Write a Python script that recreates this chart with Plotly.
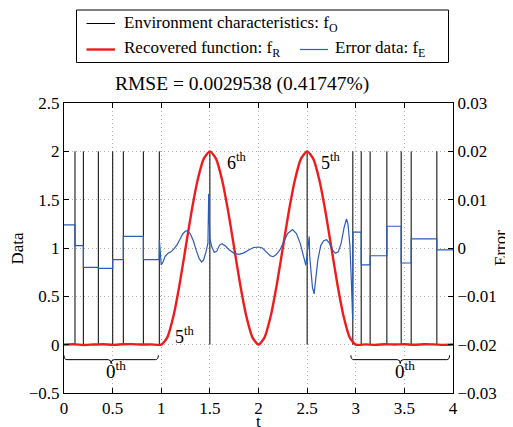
import plotly.graph_objects as go

# ---------------- data ----------------
# environment characteristics (impulses): positions and heights
impulse_t = [0.113, 0.199, 0.353, 0.501, 0.610, 0.816, 0.980, 1.5, 2.5,
             2.970, 3.056, 3.148, 3.320, 3.467, 3.570, 3.834]
impulse_h = [2.0, 2.0, 2.0, 2.0, 2.0, 2.0, 2.0, 2.0, 2.0,
             2.0, 2.0, 2.0, 2.0, 2.0, 2.0, 2.0]

# recovered function
red_t = [0.0, 0.1, 0.2, 0.3, 0.4, 0.5, 0.6, 0.7, 0.8, 0.9, 1.0,
         1.0625, 1.125, 1.1875, 1.25, 1.3125, 1.375, 1.4375, 1.5,
         1.5625, 1.625, 1.6875, 1.75, 1.8125, 1.875, 1.9375, 2.0,
         2.0625, 2.125, 2.1875, 2.25, 2.3125, 2.375, 2.4375, 2.5,
         2.5625, 2.625, 2.6875, 2.75, 2.8125, 2.875, 2.9375, 3.0,
         3.1, 3.2, 3.3, 3.4, 3.5, 3.6, 3.7, 3.8, 3.9, 4.0]
red_v = [0.0, 0.004, -0.003, 0.002, 0.005, -0.002, 0.004, 0.006, 0.001, 0.003, 0.0,
         0.076, 0.293, 0.617, 1.0, 1.383, 1.707, 1.924, 2.0,
         1.924, 1.707, 1.383, 1.0, 0.617, 0.293, 0.076, 0.0,
         0.076, 0.293, 0.617, 1.0, 1.383, 1.707, 1.924, 2.0,
         1.924, 1.707, 1.383, 1.0, 0.617, 0.293, 0.076, 0.0,
         0.003, -0.002, 0.004, 0.002, 0.005, -0.001, 0.004, 0.003, -0.002, 0.002]

# error data
err_t = [0.0, 0.113, 0.113, 0.199, 0.199, 0.353, 0.353, 0.501, 0.501, 0.610,
         0.610, 0.816, 0.816, 0.978, 0.981, 0.988, 1.0, 1.02, 1.04, 1.07,
         1.10, 1.13, 1.16, 1.19, 1.22, 1.25, 1.27, 1.30, 1.33, 1.36,
         1.39, 1.415, 1.435, 1.46, 1.48, 1.488, 1.494, 1.50, 1.52, 1.545,
         1.57, 1.60, 1.625, 1.66, 1.70, 1.75, 1.80, 1.85, 1.90, 1.95,
         2.00, 2.04, 2.08, 2.12, 2.15, 2.18, 2.22, 2.26, 2.30, 2.35,
         2.39, 2.43, 2.46, 2.487, 2.50, 2.515, 2.522, 2.526, 2.54, 2.555,
         2.572, 2.59, 2.61, 2.64, 2.67, 2.70, 2.73, 2.76, 2.79, 2.82,
         2.85, 2.88, 2.905, 2.92, 2.94, 2.955, 2.968, 2.972, 3.056, 3.056,
         3.148, 3.148, 3.320, 3.320, 3.467, 3.467, 3.570, 3.570, 3.834, 3.834,
         4.0]
err_v = [0.0048, 0.0048, 0.0005, 0.0005, -0.0040, -0.0040, -0.0042, -0.0042, -0.0024, -0.0024,
         0.0024, 0.0024, -0.0024, -0.0024, 0.0016, -0.0010, -0.0035, -0.0028, -0.0017, -0.0011,
         -0.0008, -0.0002, 0.0006, 0.0017, 0.0029, 0.0035, 0.0036, 0.0029, 0.0015, -0.0005,
         -0.0022, -0.0029, -0.0025, -0.0008, 0.0010, 0.0112, 0.0040, 0.0020, 0.0002, -0.0009,
         -0.0007, 0.0006, 0.0009, 0.0004, -0.0004, -0.0011, -0.0013, -0.0010, -0.0004, 0.0001,
         0.0002, 0.0000, -0.0008, -0.0016, -0.0018, -0.0014, -0.0004, 0.0013, 0.0030, 0.0038,
         0.0030, 0.0009, -0.0015, -0.0036, -0.0012, 0.0015, 0.0024, -0.0016, -0.0050, -0.0082,
         -0.0095, -0.0065, -0.0025, 0.0005, 0.0015, 0.0017, 0.0010, -0.0004, -0.0011, -0.0008,
         0.0010, 0.0042, 0.0060, 0.0050, 0.0005, -0.0070, -0.0147, 0.0033, 0.0033, -0.0035,
         -0.0035, -0.0016, -0.0016, 0.0045, 0.0045, -0.0031, -0.0031, 0.0019, 0.0019, -0.0004,
         -0.0004]

x_ticks = [0, 0.5, 1, 1.5, 2, 2.5, 3, 3.5, 4]
y_ticks = [-0.5, 0, 0.5, 1, 1.5, 2, 2.5]
y2_ticks = [-0.03, -0.02, -0.01, 0, 0.01, 0.02, 0.03]

# annotations: (text, t, value)
order_labels = [("6<sup>th</sup>", 1.77, 1.90), ("5<sup>th</sup>", 2.74, 1.90),
                ("5<sup>th</sup>", 1.235, 0.10)]
brace_spans = [(0.0, 0.97), (2.95, 3.965)]
brace_label = "0<sup>th</sup>"

title_text = "RMSE = 0.0029538 (0.41747%)"

# ---------------- layout geometry ----------------
# The page body has an 8px margin, so the figure is made 8px smaller and
# all screen positions below are given in window pixels.
OFF = 8
SW, SH = 513, 427                 # window size
PL, PR, PT, PB = 64, 453, 103, 393  # plot area in window pixels
W, H = SW - OFF, SH - OFF
ML, MT = PL - OFF, PT - OFF
MR, MB = SW - PR, SH - PB
PW = PR - PL
PH = PB - PT
FONT = "Liberation Serif"
RED = "#ee1c1c"
BLUE = "#2c5cb8"


def px(x):
    return (x - PL) / PW


def py(y):
    return (PB - y) / PH


imp_x, imp_y = [], []
for t, h in zip(impulse_t, impulse_h):
    imp_x += [t, t, None]
    imp_y += [0, h, None]

fig = go.Figure()
fig.add_trace(go.Scatter(x=imp_x, y=imp_y, mode="lines",
                         line=dict(color="black", width=1),
                         name="Environment characteristics: f<sub>O</sub>",
                         showlegend=False, hoverinfo="skip"))
fig.add_trace(go.Scatter(x=red_t, y=red_v, mode="lines",
                         line=dict(color=RED, width=2.4, shape="spline", smoothing=0.6),
                         name="Recovered function: f<sub>R</sub>", showlegend=False))
fig.add_trace(go.Scatter(x=err_t, y=err_v, mode="lines", yaxis="y2",
                         line=dict(color=BLUE, width=1.2),
                         name="Error data: f<sub>E</sub>", showlegend=False))

axis_common = dict(showline=True, linecolor="black", linewidth=1, ticks="inside",
                   ticklen=5, tickcolor="black", zeroline=False, automargin=False,
                   tickfont=dict(family=FONT, size=17, color="black"))
grid_common = dict(showgrid=True, gridcolor="#b0b0b0", griddash="1px,3px", gridwidth=1)

fig.update_layout(
    width=W, height=H,
    margin=dict(l=ML, r=MR, t=MT, b=MB, autoexpand=False),
    paper_bgcolor="white", plot_bgcolor="white",
    font=dict(family=FONT, size=17, color="black"),
    showlegend=False,
    xaxis=dict(range=[0, 4], tickvals=x_ticks, mirror="ticks", **grid_common, **axis_common),
    yaxis=dict(range=[-0.5, 2.5], tickvals=y_ticks, mirror=True, **grid_common, **axis_common),
    yaxis2=dict(range=[-0.03, 0.03], tickvals=y2_ticks, overlaying="y", side="right",
                anchor="x", showgrid=False, **axis_common),
)

shapes = []
# braces
ytop, ymid, ytip, w = -0.11, -0.155, -0.196, 0.03
for a, b in brace_spans:
    m = (a + b) / 2
    path = (f"M {a},{ytop} Q {a},{ymid} {a + w},{ymid} L {m - w},{ymid} "
            f"Q {m},{ymid} {m},{ytip} Q {m},{ymid} {m + w},{ymid} "
            f"L {b - w},{ymid} Q {b},{ymid} {b},{ytop}")
    shapes.append(dict(type="path", xref="x", yref="y", path=path,
                       line=dict(color="black", width=1)))

# legend box
shapes.append(dict(type="rect", xref="paper", yref="paper",
                   x0=px(76.5), x1=px(448.5), y0=py(62.5), y1=py(10),
                   line=dict(color="black", width=1), fillcolor="white"))
leg_lines = [(86.5, 115, 23.5, "black", 1), (86.5, 115, 49.5, RED, 2.4),
             (300, 328, 49.5, BLUE, 1.2)]
for x0, x1, yy, c, lw in leg_lines:
    shapes.append(dict(type="line", xref="paper", yref="paper",
                       x0=px(x0), x1=px(x1), y0=py(yy), y1=py(yy),
                       line=dict(color=c, width=lw)))
fig.update_layout(shapes=shapes)

ann = []
leg_texts = [(122, 24, "Environment characteristics: f<sub>O</sub>"),
             (122, 49, "Recovered function: f<sub>R</sub>"),
             (333, 49, "Error data: f<sub>E</sub>")]
for x0, yy, txt in leg_texts:
    ann.append(dict(text=txt, xref="paper", yref="paper", x=px(x0), y=py(yy),
                    xanchor="left", yanchor="middle", showarrow=False,
                    font=dict(family=FONT, size=17, color="black")))
ann.append(dict(text=title_text, xref="paper", yref="paper", x=px(241.5), y=py(84),
                xanchor="center", yanchor="middle", showarrow=False,
                font=dict(family=FONT, size=19.5, color="black")))
for txt, t, v in order_labels:
    ann.append(dict(text=txt, xref="x", yref="y", x=t, y=v, showarrow=False,
                    xanchor="center", yanchor="middle",
                    font=dict(family=FONT, size=18, color="black")))
for a, b in brace_spans:
    ann.append(dict(text=brace_label, xref="x", yref="y", x=(a + b) / 2 + 0.05, y=-0.26,
                    showarrow=False, xanchor="center", yanchor="middle",
                    font=dict(family=FONT, size=19, color="black")))
# axis titles
ann.append(dict(text="Data", xref="paper", yref="paper", x=px(16.5), y=0.5,
                textangle=-90, showarrow=False, xanchor="center", yanchor="middle",
                font=dict(family=FONT, size=17, color="black")))
ann.append(dict(text="Error", xref="paper", yref="paper", x=px(500), y=0.5,
                textangle=-90, showarrow=False, xanchor="center", yanchor="middle",
                font=dict(family=FONT, size=17, color="black")))
ann.append(dict(text="t", xref="paper", yref="paper", x=px(258), y=py(421),
                showarrow=False, xanchor="center", yanchor="middle",
                font=dict(family=FONT, size=17, color="black")))
fig.update_layout(annotations=ann)

fig.write_html("out.html")
